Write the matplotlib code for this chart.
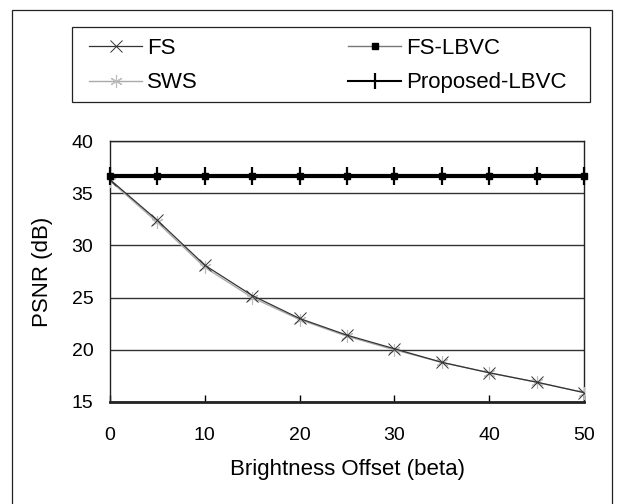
import numpy as np
import matplotlib
matplotlib.use('Agg')
import matplotlib.pyplot as plt
from matplotlib.patches import Rectangle
from matplotlib.legend_handler import HandlerLine2D

plt.rcParams['font.family'] = ['Liberation Sans', 'DejaVu Sans']

# данные
beta = [0, 5, 10, 15, 20, 25, 30, 35, 40, 45, 50]
psnr_fs = [36.3, 32.4, 28.1, 25.2, 23.0, 21.4, 20.1, 18.8, 17.8, 16.9, 15.9]
psnr_sws = [36.2, 32.2, 27.9, 25.0, 22.9, 21.3, 20.0, 18.8, 17.8, 16.9, 15.9]
psnr_fs_lbvc = [36.6, 36.6, 36.6, 36.6, 36.6, 36.6, 36.6, 36.6, 36.6, 36.6, 36.6]
psnr_prop = [36.6, 36.6, 36.6, 36.6, 36.6, 36.6, 36.6, 36.6, 36.6, 36.6, 36.6]
yticks = [15, 20, 25, 30, 35, 40]
xticks = [0, 10, 20, 30, 40, 50]

W, H = 617, 504
fig = plt.figure(figsize=(W / 100, H / 100), dpi=100)
fig.patch.set_facecolor('white')


def fx(px):
    return px / W


def fy(py):
    return 1 - py / H


# внешняя рамка (низ уходит за край картинки)
fig.patches.append(Rectangle((fx(12), fy(510)), fx(600), 500 / H,
                             transform=fig.transFigure, fill=False,
                             edgecolor='#222222', lw=0.9))
# рамка легенды
fig.patches.append(Rectangle((fx(72), fy(102)), fx(518), 75 / H,
                             transform=fig.transFigure, fill=False,
                             edgecolor='#222222', lw=0.9))

ax = fig.add_axes([fx(110), fy(402), fx(474), 261 / H])

l_sws, = ax.plot(beta, psnr_sws, color='#aaaaaa', lw=1.0, marker=(6, 2, 0), ms=9,
                 markeredgecolor='#bbbbbb', markeredgewidth=0.8, label='SWS', zorder=3)
l_fs, = ax.plot(beta, psnr_fs, color='#333333', lw=0.9, marker='x', ms=9,
                markeredgewidth=0.7, label='FS', zorder=4)
l_fsl, = ax.plot(beta, psnr_fs_lbvc, color='black', lw=3.0, marker='s', ms=5,
                 label='FS-LBVC', zorder=5, clip_on=False)
l_prop, = ax.plot(beta, psnr_prop, color='black', lw=2.0, marker='|', ms=13,
                  markeredgewidth=1.6, label='Proposed-LBVC', zorder=6, clip_on=False)

ax.set_xlim(0, 50)
ax.set_ylim(15, 40)
ax.set_xticks(xticks)
ax.set_yticks(yticks)
ax.tick_params(axis='x', direction='in', length=5, width=1, labelsize=14, pad=18)
ax.tick_params(axis='y', length=0, labelsize=14, pad=12)
ax.yaxis.grid(True, color='#333333', lw=1.0)
ax.set_axisbelow(True)
for s in ax.spines.values():
    s.set_linewidth(1.0)
    s.set_color('#222222')
ax.spines['bottom'].set_linewidth(2.0)

ax.set_xlabel('Brightness Offset (beta)', fontsize=16, labelpad=11)
ax.set_ylabel('PSNR (dB)', fontsize=16, labelpad=13)


# в легенде линии тоньше, чем на графике
def thin_fsl(legline, orig):
    legline.update_from(orig)
    legline.set_linewidth(1.0)
    legline.set_color('#777777')
    legline.set_markerfacecolor('black')
    legline.set_markeredgecolor('black')
    legline.set_marker('s')
    legline.set_markersize(5)


def thin_prop(legline, orig):
    legline.update_from(orig)
    legline.set_linewidth(1.5)
    legline.set_markersize(12)


leg1 = fig.legend([l_fs, l_sws], ['FS', 'SWS'], loc='upper left',
                  bbox_to_anchor=(fx(89), fy(38)), fontsize=16, frameon=False,
                  borderpad=0, borderaxespad=0, handlelength=2.4,
                  handletextpad=0.2, labelspacing=0.6)
leg2 = fig.legend([l_fsl, l_prop], ['FS-LBVC', 'Proposed-LBVC'], loc='upper left',
                  bbox_to_anchor=(fx(348), fy(38)), fontsize=16, frameon=False,
                  borderpad=0, borderaxespad=0, handlelength=2.4,
                  handletextpad=0.2, labelspacing=0.6,
                  handler_map={l_fsl: HandlerLine2D(update_func=thin_fsl),
                               l_prop: HandlerLine2D(update_func=thin_prop)})

fig.savefig('out.png', dpi=100)
